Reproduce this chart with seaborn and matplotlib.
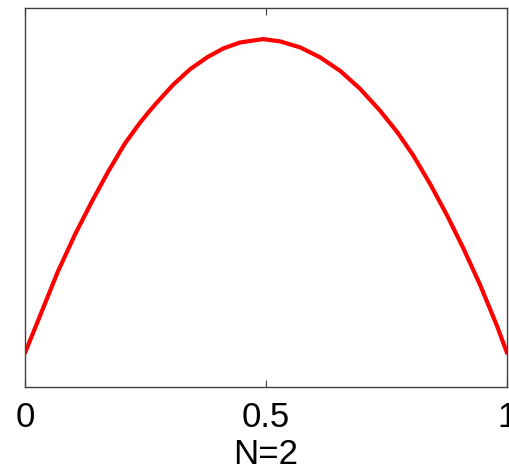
import matplotlib
matplotlib.use("Agg")
import matplotlib.pyplot as plt
import seaborn as sns
import pandas as pd

# values
x_vals = [0.0, 0.035, 0.068, 0.104, 0.139, 0.172, 0.207, 0.239, 0.259, 0.274,
          0.307, 0.342, 0.378, 0.411, 0.446, 0.494, 0.529, 0.571, 0.612, 0.654,
          0.695, 0.736, 0.772, 0.805, 0.840, 0.876, 0.909, 0.944, 0.979, 1.0]
y_vals = [0.090, 0.200, 0.304, 0.403, 0.490, 0.567, 0.642, 0.698, 0.729, 0.751,
          0.797, 0.838, 0.870, 0.893, 0.909, 0.918, 0.912, 0.896, 0.870, 0.834,
          0.787, 0.730, 0.673, 0.612, 0.537, 0.452, 0.367, 0.270, 0.162, 0.090]
x_ticks = [0, 0.5, 1]
x_tick_labels = ["0", "0.5", "1"]
x_label = "N=2"

sns.set_theme(style="white")
plt.rcParams['font.family'] = ['Liberation Sans', 'DejaVu Sans']

df = pd.DataFrame({"x": x_vals, "y": y_vals})

fig = plt.figure(figsize=(5.1, 4.75), dpi=100)
ax = fig.add_axes([25/510, 88/475, 482/510, 379/475])
sns.lineplot(data=df, x="x", y="y", ax=ax, color="#ff0000", linewidth=3.0)
for ln in ax.get_lines():
    ln.set_solid_joinstyle("round")
    ln.set_solid_capstyle("round")

ax.set_xlim(0, 1)
ax.set_ylim(0, 1)
ax.set_xticks(x_ticks)
ax.set_xticklabels(x_tick_labels, fontsize=25)
ax.set_yticks([])
ax.set_ylabel("")
ax.set_xlabel(x_label, fontsize=25, labelpad=3, color="black")
ax.tick_params(axis="x", direction="in", length=5, width=0.8, color="#404040",
               top=True, bottom=True, pad=10, labelcolor="black")
for s in ax.spines.values():
    s.set_color("#404040")
    s.set_linewidth(1.0)
    s.set_visible(True)

fig.savefig("out.png", dpi=100)
